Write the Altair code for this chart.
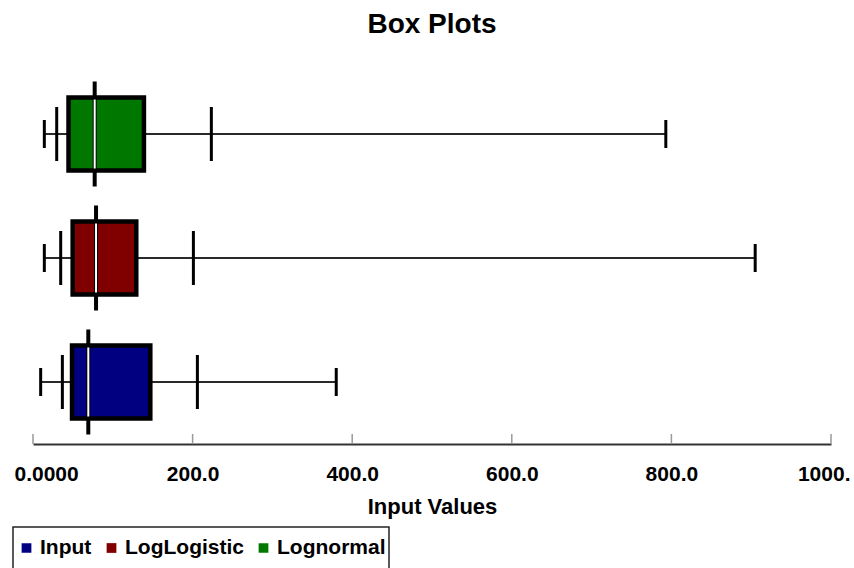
import altair as alt
import pandas as pd

# Summary statistics for each fitted distribution
series = ["Lognormal", "LogLogistic", "Input"]
mins = [14.2, 14.2, 9.6]
p5 = [29.7, 34.7, 36.8]
q1 = [44.5, 49.7, 48.9]
medians = [77.3, 79.0, 69.3]
q3 = [139.0, 129.4, 147.0]
p95 = [223.5, 201.0, 206.0]
maxs = [793.0, 905.0, 380.0]

legend_order = ["Input", "LogLogistic", "Lognormal"]
fill_colors = ["#000080", "#800000", "#007800"]

tick_values = [0, 200, 400, 600, 800, 1000]

df = pd.DataFrame({
    "series": series, "min": mins, "p5": p5, "q1": q1,
    "median": medians, "q3": q3, "p95": p95, "max": maxs,
})
ticks_df = pd.DataFrame({"value": tick_values})

FONT = "Liberation Sans"

x_scale = alt.Scale(domain=[0, 1000], nice=False, zero=False)
x_axis = alt.Axis(
    values=tick_values,
    labelExpr="datum.value == 0 ? '0.0000' : datum.value == 1000 ? '1000.' : format(datum.value, '.1f')",
    ticks=False, tickSize=0, grid=False,
    domainColor="#333333", domainWidth=2,
    labelFont=FONT, labelFontSize=21, labelFontWeight="bold", labelColor="#000000",
    labelPadding=19, labelFlush=True, labelFlushOffset=19,
    title="Input Values", titleFont=FONT, titleFontSize=22, titleFontWeight="bold",
    titleColor="#000000", titlePadding=12,
)
y_enc = alt.Y("series:N", sort=series, axis=None,
              scale=alt.Scale(paddingInner=0, paddingOuter=0))

def xq(field):
    return alt.X(f"{field}:Q", scale=x_scale, axis=x_axis, title="Input Values")

base = alt.Chart(df)

whisker = base.mark_rule(color="#2a2a2a", strokeWidth=2).encode(
    x=xq("min"), x2="max:Q", y=y_enc)

def end_tick(field, length):
    return base.mark_tick(color="#000000", opacity=1, size=length, thickness=3).encode(
        x=xq(field), y=y_enc)

box = base.mark_bar(size=73, stroke="#000000", strokeWidth=4.5, opacity=1).encode(
    x=xq("q1"), x2="q3:Q", y=y_enc,
    color=alt.Color(
        "series:N",
        scale=alt.Scale(domain=legend_order, range=fill_colors),
        legend=alt.Legend(
            title=None, orient="none", direction="horizontal",
            legendX=-20, legendY=455,
            symbolType="square", symbolSize=95, symbolStrokeWidth=0,
            labelFont=FONT, labelFontSize=21, labelFontWeight="bold",
            labelColor="#000000", labelOffset=3, columnPadding=9,
            padding=3, clipHeight=36, strokeColor="#222222",
        ),
    ),
)

median_black = base.mark_tick(color="#000000", opacity=1, size=105, thickness=4).encode(
    x=xq("median"), y=y_enc)
median_white = base.mark_tick(color="#ffffff", opacity=1, size=69, thickness=2).encode(
    x=xq("median"), y=y_enc)

axis_ticks = alt.Chart(ticks_df).mark_rule(color="#9a9a9a", strokeWidth=1.5).encode(
    x=xq("value"), y=alt.value(362), y2=alt.value(372))

chart = alt.layer(
    axis_ticks, whisker,
    end_tick("min", 28), end_tick("max", 28),
    end_tick("p5", 54), end_tick("p95", 54),
    box, median_black, median_white,
).properties(
    width=798, height=372,
    title=alt.TitleParams("Box Plots", font=FONT, fontSize=28, fontWeight="bold",
                          color="#000000", anchor="middle", offset=33),
    autosize=alt.AutoSizeParams(type="none"),
    padding={"left": 33, "top": 72, "right": 23, "bottom": 124},
    background="#ffffff",
).configure_view(stroke=None).configure_legend(strokeWidth=1.5)

chart.save("out.html", embed_options={"renderer": "svg", "actions": False})
